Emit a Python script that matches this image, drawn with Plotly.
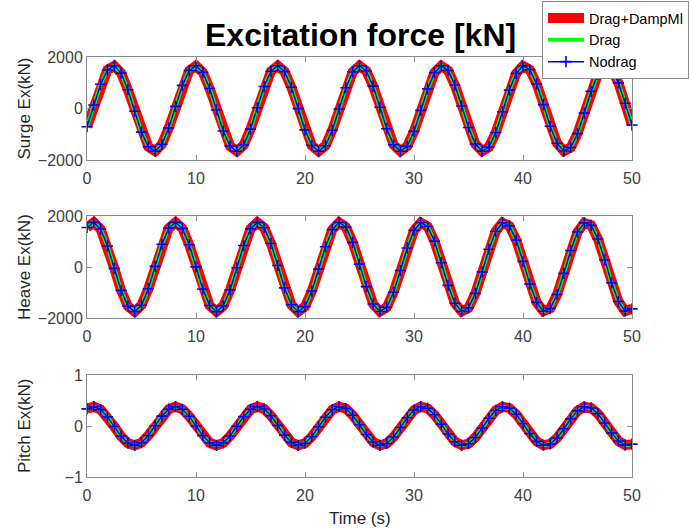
import plotly.graph_objects as go

# ---------------- data ----------------
time_s = [0, 0.625, 1.25, 1.875, 2.5, 3.125, 3.75, 4.375, 5, 5.625, 6.25, 6.875, 7.5, 8.125, 8.75, 9.375,
          10, 10.625, 11.25, 11.875, 12.5, 13.125, 13.75, 14.375, 15, 15.625, 16.25, 16.875, 17.5, 18.125, 18.75, 19.375,
          20, 20.625, 21.25, 21.875, 22.5, 23.125, 23.75, 24.375, 25, 25.625, 26.25, 26.875, 27.5, 28.125, 28.75, 29.375,
          30, 30.625, 31.25, 31.875, 32.5, 33.125, 33.75, 34.375, 35, 35.625, 36.25, 36.875, 37.5, 38.125, 38.75, 39.375,
          40, 40.625, 41.25, 41.875, 42.5, 43.125, 43.75, 44.375, 45, 45.625, 46.25, 46.875, 47.5, 48.125, 48.75, 49.375,
          50]

surge_kN = [-707, 135, 940, 1497, 1656, 1375, 730, -109, -919, -1485, -1657, -1390, -754, 83, 897, 1473,
            1659, 1404, 777, -56, -875, -1461, -1660, -1418, -800, 30, 852, 1448, 1660, 1431, 823, -4,
            -830, -1436, -1660, -1444, -845, -22, 807, 1422, 1660, 1457, 867, 48, -785, -1409, -1659, -1469,
            -889, -74, 761, 1394, 1658, 1481, 911, 100, -738, -1380, -1656, -1493, -933, -126, 715, 1366,
            1654, 1504, 954, 152, -691, -1351, -1652, -1515, -976, -178, 667, 1335, 1649, 1525, 997, 204,
            -643]

heave_kN = [1549, 1749, 1484, 825, -52, -916, -1536, -1750, -1499, -850, 24, 892, 1523, 1750, 1513, 874,
            3, -868, -1509, -1750, -1526, -897, -31, 844, 1495, 1749, 1539, 921, 58, -820, -1481, -1749,
            -1552, -944, -85, 796, 1466, 1747, 1565, 967, 113, -771, -1451, -1745, -1577, -990, -140, 747,
            1435, 1743, 1589, 1013, 168, -722, -1419, -1741, -1600, -1035, -195, 696, 1403, 1738, 1611, 1057,
            222, -671, -1387, -1734, -1621, -1079, -250, 646, 1370, 1730, 1632, 1100, 277, -620, -1352, -1726,
            -1641]

pitch_kN = [0.336, 0.380, 0.322, 0.179, -0.011, -0.199, -0.334, -0.380, -0.325, -0.185, 0.005, 0.194, 0.331, 0.380, 0.328, 0.190,
            0.001, -0.189, -0.328, -0.380, -0.331, -0.195, -0.007, 0.183, 0.325, 0.380, 0.334, 0.200, 0.013, -0.178, -0.322, -0.380,
            -0.337, -0.205, -0.019, 0.173, 0.318, 0.379, 0.340, 0.210, 0.025, -0.167, -0.315, -0.379, -0.342, -0.215, -0.030, 0.162,
            0.312, 0.379, 0.345, 0.220, 0.036, -0.157, -0.308, -0.378, -0.347, -0.225, -0.042, 0.151, 0.305, 0.377, 0.350, 0.229,
            0.048, -0.146, -0.301, -0.377, -0.352, -0.234, -0.054, 0.140, 0.297, 0.376, 0.354, 0.239, 0.060, -0.135, -0.294, -0.375,
            -0.356]

series_names = ["Drag+DampMl", "Drag", "Nodrag"]
panel_labels = ["Surge Ex(kN)", "Heave Ex(kN)", "Pitch Ex(kN)"]
panel_data = [surge_kN, heave_kN, pitch_kN]
y_ticks = [[-2000, 0, 2000], [-2000, 0, 2000], [-1, 0, 1]]
x_ticks = [0, 10, 20, 30, 40, 50]
title_text = "Excitation force [kN]"
x_label = "Time (s)"

# ---------------- styling ----------------
W, H = 689, 531
FONT = "Liberation Sans, Arial, sans-serif"
AX = "#8c8c8c"
TXT = "#404040"

x_dom = [87 / W, 632 / W]
y_px = [(57, 160), (216, 318), (375, 477)]
y_doms = [[1 - b / H, 1 - t / H] for (t, b) in y_px]

styles = [
    dict(mode="lines", line=dict(color="#ff0000", width=10)),
    dict(mode="lines", line=dict(color="#00ff00", width=4)),
    dict(mode="lines+markers", line=dict(color="#0000ff", width=1.5),
         marker=dict(symbol="cross-thin", size=8, color="#0000ff",
                     line=dict(color="#0000ff", width=1.6))),
]

fig = go.Figure()
for i, vals in enumerate(panel_data):
    xa = "x" if i == 0 else f"x{i+1}"
    ya = "y" if i == 0 else f"y{i+1}"
    for j, name in enumerate(series_names):
        fig.add_trace(go.Scatter(
            x=time_s, y=vals, name=name, legendgroup=name,
            showlegend=(i == 0), xaxis=xa, yaxis=ya,
            cliponaxis=(j != 2), **styles[j]))

layout = dict(
    width=W, height=H,
    margin=dict(l=0, r=0, t=0, b=0, autoexpand=False),
    paper_bgcolor="white", plot_bgcolor="white",
    font=dict(family=FONT, size=16, color=TXT),
    showlegend=True,
    legend=dict(x=1, y=1 - 1 / H, xanchor="right", yanchor="top",
                bgcolor="white", bordercolor=AX, borderwidth=1,
                font=dict(family=FONT, size=14.5, color="#000000"),
                tracegroupgap=0, itemwidth=36),
)
annotations = [
    dict(text="<b>" + title_text + "</b>", x=360 / W, y=1 - 35 / H, xref="paper", yref="paper",
         xanchor="center", yanchor="middle", showarrow=False,
         font=dict(family=FONT, size=32, color="#000000")),
    dict(text=x_label, x=360 / W, y=1 - 518 / H, xref="paper", yref="paper",
         xanchor="center", yanchor="middle", showarrow=False,
         font=dict(family=FONT, size=17, color="#262626")),
]
for i in range(3):
    sx = "" if i == 0 else str(i + 1)
    yr = [-2000, 2000] if i < 2 else [-1, 1]
    layout["xaxis" + sx] = dict(
        domain=x_dom, anchor="y" + sx, range=[0, 50], tickvals=x_ticks,
        ticks="inside", ticklen=5, tickcolor=AX, showline=True, linecolor=AX,
        linewidth=1, mirror="ticks", showgrid=False, zeroline=False,
        ticklabelstandoff=4,
        tickfont=dict(family=FONT, size=16, color=TXT))
    layout["yaxis" + sx] = dict(
        domain=y_doms[i], anchor="x" + sx, range=yr, tickvals=y_ticks[i],
        ticks="inside", ticklen=5, tickcolor=AX, showline=True, linecolor=AX,
        linewidth=1, mirror="ticks", showgrid=False, zeroline=False,
        tickfont=dict(family=FONT, size=16, color=TXT))
    t, b = y_px[i]
    annotations.append(dict(
        text=panel_labels[i], x=24 / W, y=1 - ((t + b) / 2) / H, xref="paper", yref="paper",
        xanchor="center", yanchor="middle", textangle=-90, showarrow=False,
        font=dict(family=FONT, size=17, color="#262626")))
layout["annotations"] = annotations
fig.update_layout(**layout)

fig.write_html("out.html", config={"displayModeBar": False},
               post_script="document.body.style.margin='0';document.body.style.overflow='hidden';")
